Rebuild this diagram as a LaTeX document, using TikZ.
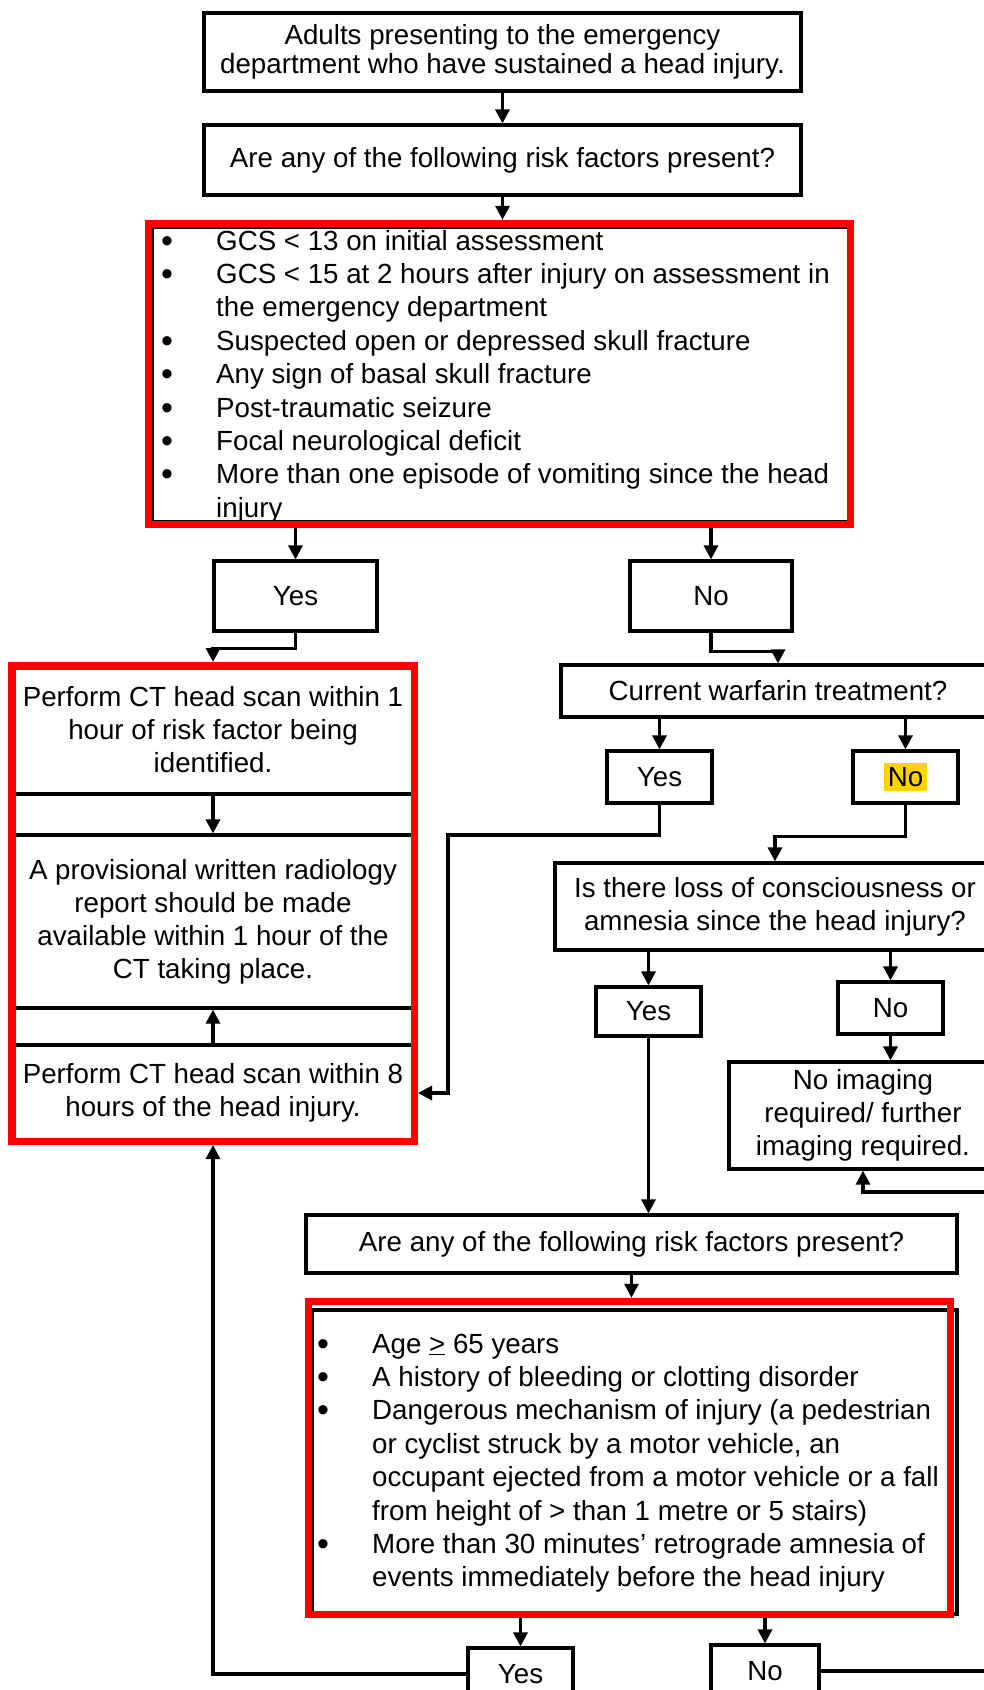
\documentclass[tikz,border=0pt]{standalone}
\usepackage{fontspec}
\setmainfont{Liberation Sans}
\usetikzlibrary{arrows.meta}
\definecolor{flagred}{RGB}{255,0,0}
\definecolor{hilite}{RGB}{255,210,0}
\newcommand{\blt}{\smash{\raisebox{-2pt}{\fontsize{34}{33}\selectfont\textbullet}}}
\begin{document}
\begin{tikzpicture}[x=1pt,y=-1pt,
    every node/.style={font=\fontsize{27.7}{33}\selectfont},
    box/.style={draw, line width=3.2pt, align=center, inner sep=0pt},
    redframe/.style={draw=flagred, line width=7.5pt, inner sep=0pt},
    bullets/.style={inner sep=0pt, anchor=base west, font=\fontsize{27.7}{33.4}\selectfont},
    flow/.style={line width=3.2pt, -{Triangle[width=14pt,length=14pt]}},
    link/.style={line width=3.2pt}]
    \useasboundingbox (0,0) rectangle (984,1690);

    \node[box, minimum width=597pt, minimum height=78pt, font=\fontsize{27.7}{29.5}\selectfont] (start) at (502.5,52)
    {Adults presenting to the emergency\\department who have sustained a head injury.};
    \node[box, minimum width=597pt, minimum height=70pt] (ask1) at (502.5,160)
    {Are any of the following risk factors present?};

    \node[box, minimum width=697pt, minimum height=295pt] (risk1) at (500.5,374.5) {};
    \node[bullets] (risk1list) at (161,250) {\begin{tabular}[t]{@{}p{55pt}@{}l@{}}
    \blt & GCS < 13 on initial assessment\\
    \blt & GCS < 15 at 2 hours after injury on assessment in\\
         & the emergency department\\
    \blt & Suspected open or depressed skull fracture\\
    \blt & Any sign of basal skull fracture\\
    \blt & Post-traumatic seizure\\
    \blt & Focal neurological deficit\\
    \blt & More than one episode of vomiting since the head\\
         & injury
    \end{tabular}};
    \node[redframe, minimum width=702pt, minimum height=301pt] (risk1f) at (499.5,374) {};

    \node[box, minimum width=163pt, minimum height=70pt] (yesA) at (295.5,596) {Yes};
    \node[box, minimum width=162pt, minimum height=70pt] (noA) at (711,596) {No};

    \node[box, minimum width=402pt, minimum height=128pt] (ctA) at (213,730)
    {Perform CT head scan within 1\\hour of risk factor being\\identified.};
    \node[box, minimum width=402pt, minimum height=173pt] (ctB) at (213,921.5)
    {A provisional written radiology\\report should be made\\available within 1 hour of the\\CT taking place.};
    \node[box, minimum width=402pt, minimum height=96pt] (ctC) at (213,1093)
    {Perform CT head scan within 8\\hours of the head injury.};
    \node[redframe, minimum width=402.5pt, minimum height=475.5pt] (leftf) at (213,903.5) {};

    \node[box, minimum width=434pt, minimum height=52pt] (warf) at (778,691) {Current warfarin treatment?};
    \node[box, minimum width=105pt, minimum height=52pt] (warfY) at (659.5,777) {Yes};
    \node[box, minimum width=105pt, minimum height=52pt] (warfN) at (905.5,777)
    {\setlength{\fboxsep}{4pt}\colorbox{hilite}{No}};

    \node[box, minimum width=440pt, minimum height=87pt] (loc) at (775,906.5)
    {Is there loss of consciousness or\\amnesia since the head injury?};
    \node[box, minimum width=105pt, minimum height=49pt] (locY) at (648.5,1011.5) {Yes};
    \node[box, minimum width=105pt, minimum height=52pt] (locN) at (890.5,1008) {No};
    \node[box, minimum width=268pt, minimum height=107pt] (noimg) at (863,1115.5)
    {No imaging\\required/ further\\imaging required.};

    \node[box, minimum width=651pt, minimum height=58pt] (ask2) at (631.5,1244)
    {Are any of the following risk factors present?};
    \node[box, minimum width=645pt, minimum height=304pt] (risk2) at (634.5,1462) {};
    \node[bullets] (risk2list) at (317,1353) {\begin{tabular}[t]{@{}p{55pt}@{}l@{}}
    \blt & Age \underline{>} 65 years\\
    \blt & A history of bleeding or clotting disorder\\
    \blt & Dangerous mechanism of injury (a pedestrian\\
         & or cyclist struck by a motor vehicle, an\\
         & occupant ejected from a motor vehicle or a fall\\
         & from height of > than 1 metre or 5 stairs)\\
    \blt & More than 30 minutes’ retrograde amnesia of\\
         & events immediately before the head injury
    \end{tabular}};
    \node[redframe, minimum width=642pt, minimum height=313pt] (risk2f) at (629.5,1458) {};

    \node[box, minimum width=105pt, minimum height=52pt] (yesB) at (520.5,1674) {Yes};
    \node[box, minimum width=108pt, minimum height=52pt] (noB) at (765,1671) {No};

    \coordinate (yesbend) at (448,835);
    \coordinate (backin) at (995,1192);
    \coordinate (noout) at (995,1671);

    \draw[flow] (start.south) -- (ask1.north);
    \draw[flow] (ask1.south) -- (ask1.south |- risk1f.north);
    \draw[flow] (yesA.north |- risk1f.south) -- (yesA.north);
    \draw[flow] (noA.north |- risk1f.south) -- (noA.north);
    \draw[flow] (yesA.south) -- ++(0,16) -| (leftf.north);
    \draw[flow] (noA.south) -- ++(0,19) -| (warf.north);
    \draw[flow] (ctA.south) -- (ctB.north);
    \draw[flow] (ctC.north) -- (ctB.south);
    \draw[flow] (warfY.north |- warf.south) -- (warfY.north);
    \draw[flow] (warfN.north |- warf.south) -- (warfN.north);
    \draw[flow] (warfY.south) |- (yesbend) |- (leftf.east |- ctC.east);
    \draw[flow] (warfN.south) -- ++(0,32) -| (loc.north);
    \draw[flow] (locY.north |- loc.south) -- (locY.north);
    \draw[flow] (locN.north |- loc.south) -- (locN.north);
    \draw[flow] (locN.south) -- (locN.south |- noimg.north);
    \draw[flow] (backin) -| (noimg.south);
    \draw[flow] (locY.south) -- (locY.south |- ask2.north);
    \draw[flow] (ask2.south) -- (ask2.south |- risk2f.north);
    \draw[flow] (yesB.north |- risk2f.south) -- (yesB.north);
    \draw[flow] (noB.north |- risk2f.south) -- (noB.north);
    \draw[flow] (yesB.west) -| (leftf.south);
    \draw[link] (noB.east) -- (noout);
  \end{tikzpicture}
\end{document}
